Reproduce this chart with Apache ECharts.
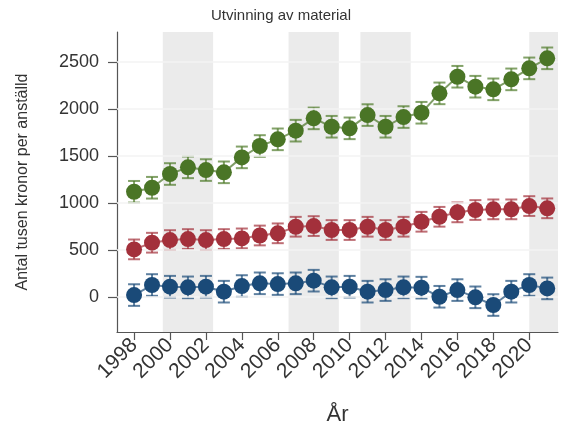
<!DOCTYPE html>
<html><head><meta charset="utf-8">
<script src="https://cdn.jsdelivr.net/npm/echarts@6/dist/echarts.min.js"></script>
<style>html,body{margin:0;padding:0;background:#fff}#c{width:562px;height:434px}</style>
</head><body><div id="c"></div>
<script>
const years = [1998,1999,2000,2001,2002,2003,2004,2005,2006,2007,2008,2009,2010,2011,2012,2013,2014,2015,2016,2017,2018,2019,2020,2021];
const green = [1120,1163,1309,1380,1351,1327,1486,1607,1678,1770,1901,1812,1795,1936,1812,1915,1961,2167,2344,2238,2210,2316,2433,2540];
const red   = [507,578,606,617,606,617,624,655,678,748,755,713,713,748,713,748,801,854,901,926,933,933,968,944];
const blue  = [21,128,110,103,110,57,117,146,138,146,174,103,110,57,74,103,100,3,74,-3,-85,57,128,92];
const greenErr = [115,115,115,115,115,115,115,115,115,115,115,115,115,115,115,115,115,115,115,115,115,115,115,115];
const redErr   = [105,105,105,105,105,105,105,105,105,105,105,105,105,105,105,105,105,105,105,105,105,105,105,105];
const blueErr  = [115,115,115,115,115,115,115,115,115,115,115,115,115,115,115,115,115,115,115,115,115,115,115,115];
const xTicks = [1998,2000,2002,2004,2006,2008,2010,2012,2014,2016,2018,2020];
const yTicks = [0,500,1000,1500,2000,2500];
const bands = [[1999.6,2002.4],[2006.6,2009.4],[2010.6,2013.4],[2020.0,2021.6]];

const FONT = 'Liberation Sans, Arial, sans-serif';
const chart = echarts.init(document.getElementById('c'), null, {renderer:'canvas'});

function errSeries(vals, errs, color, z){
  return {
    type:'custom', z:z,
    data: years.map((y,i)=>[y, vals[i]-errs[i], vals[i]+errs[i]]),
    renderItem: function(params, api){
      const x = api.value(0);
      const p1 = api.coord([x, api.value(1)]);
      const p2 = api.coord([x, api.value(2)]);
      const w = 6;
      const st = {stroke: color, lineWidth: 2, opacity: 0.7};
      return {type:'group', children:[
        {type:'line', shape:{x1:p1[0],y1:p1[1],x2:p2[0],y2:p2[1]}, style:st},
        {type:'line', shape:{x1:p1[0]-w,y1:p1[1],x2:p1[0]+w,y2:p1[1]}, style:st},
        {type:'line', shape:{x1:p2[0]-w,y1:p2[1],x2:p2[0]+w,y2:p2[1]}, style:st}
      ]};
    }
  };
}
function ptSeries(vals, color, z){
  return {
    type:'line', z:z,
    data: years.map((y,i)=>[y, vals[i]]),
    symbol:'circle', symbolSize:16,
    itemStyle:{color:color, opacity:1},
    lineStyle:{color:color, width:2, opacity:0.7},
    animation:false
  };
}
const plain = v => String(Math.round(v));

const option = {
  animation:false,
  textStyle:{fontFamily:FONT},
  title:{text:'Utvinning av material', left:'center', top:3,
    textStyle:{fontSize:15, fontWeight:'normal', color:'#333', fontFamily:FONT}},
  grid:{left:117, right:4, top:32, bottom:102, containLabel:false},
  xAxis:{type:'value', min:1997.05, max:2021.6,
    name:'År', nameLocation:'middle', nameGap:72,
    nameTextStyle:{fontSize:22, color:'#333', fontFamily:FONT},
    axisLine:{show:true, onZero:false, lineStyle:{color:'#555', width:1.2}},
    axisTick:{show:true, customValues:xTicks, length:8, lineStyle:{color:'#555', width:1.2}},
    axisLabel:{customValues:xTicks, formatter:plain, rotate:45, fontSize:21, color:'#333', margin:10, fontFamily:FONT},
    splitLine:{show:false}},
  yAxis:{type:'value', min:-372, max:2820,
    name:'Antal tusen kronor per anställd', nameLocation:'middle', nameGap:86,
    nameTextStyle:{fontSize:16, color:'#333', fontFamily:FONT},
    axisLine:{show:true, lineStyle:{color:'#555', width:1.2}},
    axisTick:{show:true, customValues:yTicks, length:9, lineStyle:{color:'#555', width:1.2}},
    axisLabel:{customValues:yTicks, formatter:plain, fontSize:18, color:'#333', margin:18, fontFamily:FONT},
    splitLine:{show:false}},
  series:[
    {type:'line', data:[], z:1, silent:true,
      markArea:{silent:true, itemStyle:{color:'#ebebeb'},
        data: bands.map(b=>[{xAxis:b[0]},{xAxis:b[1]}])}},
    {type:'line', data:[], z:2, silent:true,
      markLine:{silent:true, symbol:'none', label:{show:false},
        lineStyle:{color:'#f3f3f3', width:1.5, type:'solid'},
        data: yTicks.map(v=>({yAxis:v}))}},
    errSeries(green, greenErr, '#4f7a2a', 3),
    errSeries(red, redErr, '#a3303b', 3),
    errSeries(blue, blueErr, '#1a4a78', 3),
    ptSeries(green, '#4a7526', 5),
    ptSeries(red, '#a3303b', 5),
    ptSeries(blue, '#1a4a78', 5)
  ]
};
chart.setOption(option);
</script></body></html>
